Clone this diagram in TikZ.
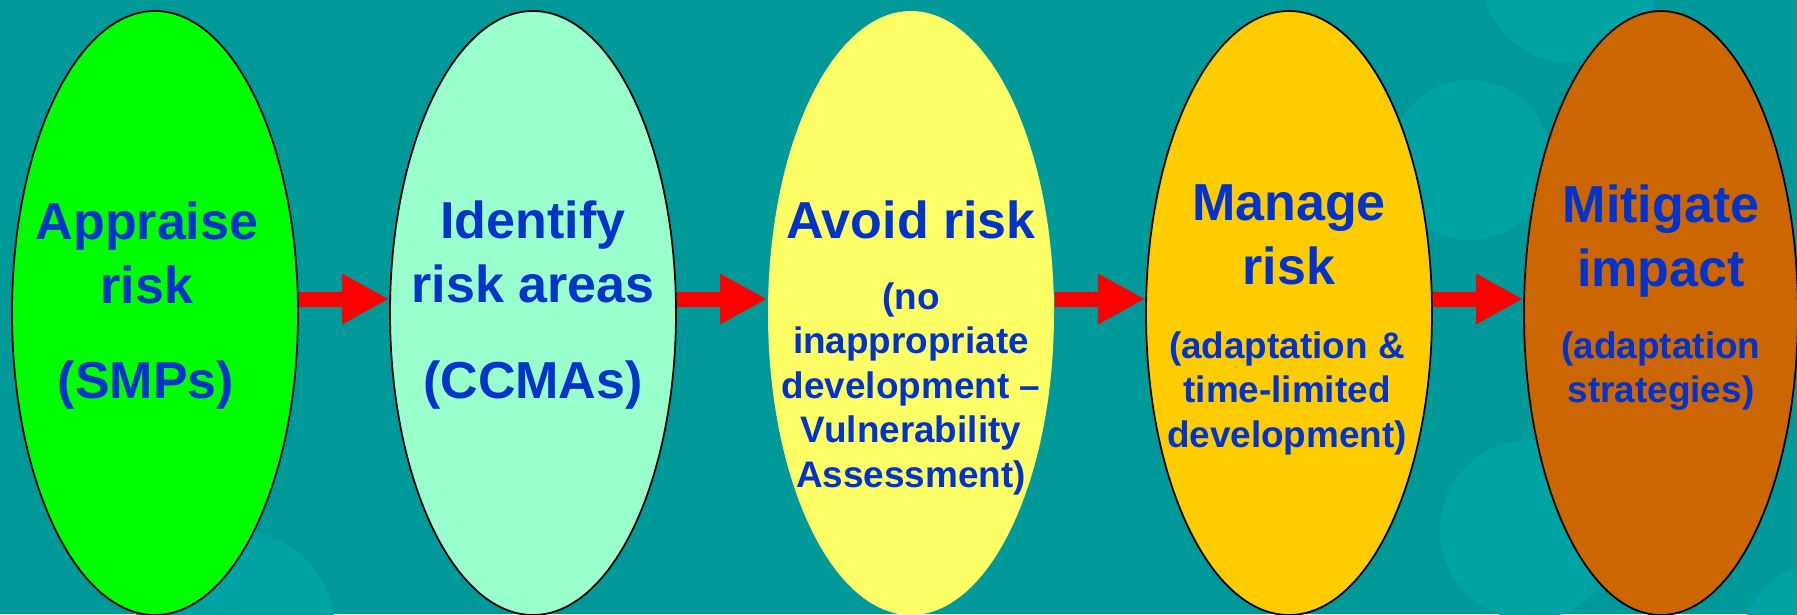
\documentclass[tikz,border=0pt]{standalone}
\usepackage{fontspec}
\setmainfont{Liberation Sans}
\usepackage{tikz}
\usetikzlibrary{shapes.geometric, arrows.meta, positioning}

\definecolor{slidebg}{HTML}{009999}
\definecolor{bubble}{HTML}{00A3A3}
\definecolor{txtblue}{HTML}{0033CC}
\definecolor{stagegreen}{HTML}{00FF00}
\definecolor{stagemint}{HTML}{99FFCC}
\definecolor{stageyellow}{HTML}{FFFF66}
\definecolor{stagegold}{HTML}{FFCC00}
\definecolor{stagerust}{HTML}{CC6600}

\begin{document}
\begin{tikzpicture}[
    % Styles
    stage/.style={
        ellipse,
        minimum width=2.86cm,
        minimum height=6.04cm,
        inner sep=0pt,
        draw=black,
        line width=0.5pt
    },
    heading/.style={
        anchor=north,
        inner sep=0pt,
        align=center,
        text=txtblue,
        font=\fontsize{14.8}{18.35}\selectfont\bfseries
    },
    detail/.style={
        anchor=north,
        inner sep=0pt,
        align=center,
        text=txtblue,
        font=\fontsize{10.5}{12.65}\selectfont\bfseries
    },
    flow/.style={
        -{Triangle[length=0.47cm, width=0.47cm]},
        line width=0.15cm,
        color=red
    }
]

\useasboundingbox (0,0) rectangle (17.97,-6.14);

% Backdrop
\fill[slidebg] (0,0) rectangle (17.97,-6.14);
\fill[bubble] (2.35,-6.30) circle (1.0);
\fill[bubble] (14.70,-1.60) circle (0.80);
\fill[bubble] (15.70,0.25) circle (0.88);
\fill[bubble] (15.30,-5.30) circle (0.90);
\fill[bubble] (18.30,-6.50) circle (0.90);

% Five stages
\node[stage, fill=stagegreen] (appraise) at (1.55,-3.13) {};
\node[stage, fill=stagemint] (identify) at (5.33,-3.13) {};
\node[stage, fill=stageyellow, draw=none] (avoid) at (9.11,-3.13) {};
\node[stage, fill=stagegold] (manage) at (12.89,-3.13) {};
\node[stage, fill=stagerust, minimum width=2.74cm] (mitigate) at (16.61,-3.13) {};

% Arrows
\draw[flow] ([yshift=0.14cm]appraise.east) -- ([yshift=0.14cm]identify.west);
\draw[flow] ([yshift=0.14cm]identify.east) -- ([yshift=0.14cm]avoid.west);
\draw[flow] ([yshift=0.14cm]avoid.east) -- ([yshift=0.14cm]manage.west);
\draw[flow] ([yshift=0.14cm]manage.east) -- ([yshift=0.14cm]mitigate.west);

% Texts
\node[heading] (appraise-h) at (1.47,-2.01) {Appraise\\risk};
\node[heading] (appraise-d) at (1.46,-3.60) {(SMPs)};

\node[heading] (identify-h) at (5.33,-2.00) {Identify\\risk areas};
\node[heading] (identify-d) at (5.33,-3.60) {(CCMAs)};

\node[heading] (avoid-h) at (9.11,-2.00) {Avoid risk};
\node[detail] (avoid-d) at (9.11,-2.82) {(no\\inappropriate\\development --\\Vulnerability\\Assessment)};

\node[heading] (manage-h) at (12.89,-1.84) {Manage\\risk};
\node[detail] (manage-d) at (12.87,-3.31) {(adaptation \&\\time-limited\\development)};

\node[heading] (mitigate-h) at (16.61,-1.84) {Mitigate\\impact};
\node[detail] (mitigate-d) at (16.61,-3.31) {(adaptation\\strategies)};

\end{tikzpicture}
\end{document}
